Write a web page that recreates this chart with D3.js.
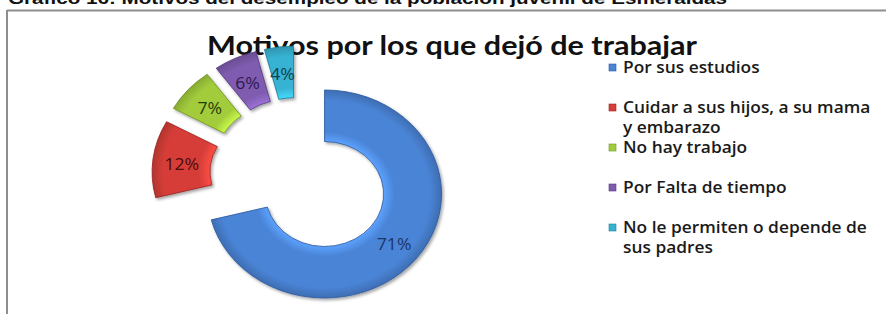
<!DOCTYPE html>
<html><head><meta charset="utf-8">
<script src="https://cdn.jsdelivr.net/npm/d3@7"></script>
<style>html,body{margin:0;padding:0;background:#fff;}svg{display:block;}</style>
</head><body>
<svg id="chart" width="886" height="314"></svg>
<script>
const captionText = "Gráfico 16: Motivos del desempleo de la población juvenil de Esmeraldas";
const titleText = "Motivos por los que dejó de trabajar";
const categories = ["Por sus estudios", "Cuidar a sus hijos, a su mama y embarazo", "No hay trabajo", "Por Falta de tiempo", "No le permiten o depende de sus padres"];
const legendLines = [["Por sus estudios"], ["Cuidar a sus hijos, a su mama", "y embarazo"], ["No hay trabajo"], ["Por Falta de tiempo"], ["No le permiten o depende de", "sus padres"]];
const values = [71, 12, 7, 6, 4];
const colors = ["#4a84d6", "#d63e38", "#a3cc3c", "#7f5cb0", "#38b2d2"];
const darkColors = ["#2c5aa0", "#9a2420", "#6e9423", "#553a84", "#1f7f9c"];
const labelColors = ["#1c3666", "#4a0c0c", "#263c0c", "#2c1a52", "#0e4050"];

const svg = d3.select("#chart");
const defs = svg.append("defs");

// frame
svg.append("line").attr("x1", 7).attr("x2", 886).attr("y1", 10.5).attr("y2", 10.5).attr("stroke", "#8e8e8e").attr("stroke-width", 2);
svg.append("line").attr("x1", 7).attr("x2", 7).attr("y1", 10).attr("y2", 314).attr("stroke", "#8e8e8e").attr("stroke-width", 2);

// caption (cut at top)
svg.append("text").attr("x", 8).attr("y", 4).attr("textLength", 719).attr("lengthAdjust", "spacingAndGlyphs")
  .style("font-family", "Liberation Sans, Arial, sans-serif").style("font-weight", "bold").style("font-size", "17px").attr("fill", "#111").text(captionText);

// title
svg.append("text").attr("x", 207).attr("y", 55).attr("textLength", 490).attr("lengthAdjust", "spacingAndGlyphs")
  .style("font-family", "Lato, 'Open Sans', sans-serif").style("font-weight", "bold").style("font-size", "27px").attr("fill", "#111").text(titleText);

// gradients
colors.forEach((c, i) => {
  const g = defs.append("radialGradient").attr("id", "grad" + i).attr("gradientUnits", "userSpaceOnUse")
    .attr("cx", 0).attr("cy", 0).attr("r", 104);
  g.append("stop").attr("offset", "0.5").attr("stop-color", d3.color(c).brighter(0.6));
  g.append("stop").attr("offset", "0.6").attr("stop-color", c);
  g.append("stop").attr("offset", "0.9").attr("stop-color", c);
  g.append("stop").attr("offset", "1").attr("stop-color", d3.color(c).darker(0.5));
});
const f = defs.append("filter").attr("id", "shadow").attr("x", "-20%").attr("y", "-20%").attr("width", "140%").attr("height", "140%");
f.append("feDropShadow").attr("dx", 1.5).attr("dy", 2).attr("stdDeviation", 1.5).attr("flood-color", "#000").attr("flood-opacity", 0.35);

// donut
const cx = 297, cy = 175, sx = 1.125;
const outerR = 104, innerR = 52.5;
const explode = [31, 25, 25, 25, 25];
const pie = d3.pie().sort(null).value(d => d)(values);
const arc = d3.arc().innerRadius(innerR).outerRadius(outerR);
const g = svg.append("g").attr("transform", `translate(${cx},${cy}) scale(${sx},1)`);
g.selectAll("path").data(pie).join("path")
  .attr("transform", (d, i) => {
    const a = (d.startAngle + d.endAngle) / 2;
    return `translate(${Math.sin(a) * explode[i]},${-Math.cos(a) * explode[i]})`;
  })
  .attr("d", arc)
  .attr("fill", (d, i) => `url(#grad${i})`)
  .attr("stroke", (d, i) => darkColors[i]).attr("stroke-width", 0.8)
  .attr("filter", "url(#shadow)");

// labels
svg.selectAll("text.lab").data(pie).join("text").attr("class", "lab")
  .attr("transform", (d, i) => {
    const a = (d.startAngle + d.endAngle) / 2;
    const r = (innerR + outerR) / 2 + explode[i];
    return `translate(${cx + Math.sin(a) * r * sx},${cy - Math.cos(a) * r + 2}) scale(1.1,1)`;
  })
  .attr("dy", "0.35em").attr("text-anchor", "middle")
  .style("font-family", "'Open Sans', sans-serif").style("font-size", "16px")
  .attr("fill", (d, i) => labelColors[i]).text(d => d.data + "%");

// legend
const legendX = 609, legendY0 = 73, legendStep = 40, lineH = 20;
const leg = svg.append("g");
legendLines.forEach((lines, i) => {
  const y = legendY0 + i * legendStep;
  leg.append("rect").attr("x", legendX).attr("y", y - 9).attr("width", 7).attr("height", 7)
    .attr("fill", colors[i]).attr("stroke", darkColors[i]).attr("stroke-width", 0.6);
  const t = leg.append("text").attr("transform", `translate(${legendX + 14},${y}) scale(1.12,1)`)
    .style("font-family", "'Open Sans', sans-serif").style("font-weight", 600).style("font-size", "15.5px").attr("fill", "#1a1a1a");
  lines.forEach((ln, j) => {
    t.append("tspan").attr("x", 0).attr("dy", j === 0 ? 0 : lineH).text(ln);
  });
});
</script>
</body></html>
